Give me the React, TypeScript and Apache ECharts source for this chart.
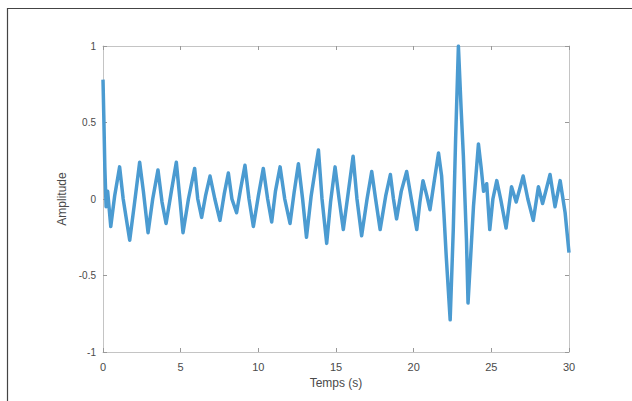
import React, { useEffect, useRef } from "react";
import * as echarts from "echarts";

const times = [
  0.0, 0.05, 0.12, 0.2, 0.3, 0.5, 0.75, 1.07, 1.3, 1.72, 2.0, 2.36, 2.6, 2.9, 3.2, 3.54, 3.8, 4.06, 4.4, 4.72,
  4.95, 5.15, 5.5, 5.9, 6.1, 6.35, 6.6, 6.89, 7.2, 7.53, 7.8, 8.07, 8.3, 8.6, 8.85, 9.14, 9.4, 9.68, 10.0, 10.32,
  10.6, 10.86, 11.1, 11.4, 11.7, 12.04, 12.3, 12.58, 12.85, 13.1, 13.4, 13.6, 13.87, 14.1, 14.4, 14.65, 14.94, 15.2, 15.47, 15.8,
  16.1, 16.35, 16.65, 17.0, 17.3, 17.55, 17.84, 18.2, 18.5, 18.7, 18.9, 19.2, 19.55, 19.85, 20.2, 20.4, 20.6, 20.85, 21.05, 21.3,
  21.6, 21.8, 21.95, 22.1, 22.35, 22.55, 22.7, 22.88, 23.05, 23.2, 23.4, 23.5, 23.6, 23.85, 24.17, 24.35, 24.5, 24.7, 24.9, 25.1,
  25.35, 25.6, 25.95, 26.3, 26.6, 27.05, 27.35, 27.7, 28.03, 28.3, 28.78, 29.1, 29.43, 29.75, 30.0,
];

const amplitudes = [
  0.78, 0.55, 0.2, -0.05, 0.05, -0.18, 0.02, 0.21, 0.0, -0.27, -0.05, 0.24, 0.05, -0.22, 0.0, 0.19, -0.02, -0.16, 0.05, 0.24,
  0.0, -0.22, 0.0, 0.2, 0.0, -0.12, 0.02, 0.15, 0.0, -0.14, 0.03, 0.17, 0.0, -0.09, 0.06, 0.22, 0.0, -0.18, 0.02, 0.2,
  0.0, -0.15, 0.05, 0.21, 0.0, -0.16, 0.04, 0.23, 0.0, -0.25, 0.02, 0.15, 0.32, 0.0, -0.29, -0.02, 0.21, 0.0, -0.2, 0.05,
  0.28, 0.0, -0.24, 0.0, 0.18, 0.0, -0.2, 0.02, 0.16, 0.0, -0.13, 0.05, 0.18, 0.0, -0.2, -0.02, 0.12, 0.02, -0.07, 0.1,
  0.3, 0.15, -0.1, -0.38, -0.79, -0.2, 0.39, 1.0, 0.6, 0.28, -0.27, -0.68, -0.5, -0.05, 0.36, 0.2, 0.05, 0.1, -0.2, 0.0,
  0.12, 0.0, -0.19, 0.08, -0.02, 0.15, 0.0, -0.14, 0.08, -0.03, 0.16, -0.05, 0.12, -0.09, -0.35,
];

const xTicks = [0, 5, 10, 15, 20, 25, 30];
const yTicks = [-1, -0.5, 0, 0.5, 1];

export default function App() {
  const ref = useRef<HTMLDivElement>(null);
  useEffect(() => {
    if (!ref.current) return;
    const chart = echarts.init(ref.current, null, { renderer: "svg" });
    const data = times.map((t, i) => [t, amplitudes[i]]);
    const font = "Liberation Sans, Arial, sans-serif";
    const boxColor = "#c4c4c4";
    const labelColor = "#4a4a4a";
    const baseX = {
      type: "value",
      min: xTicks[0],
      max: xTicks[xTicks.length - 1],
      interval: 5,
      splitLine: { show: false },
      axisLine: { show: true, onZero: false, lineStyle: { color: boxColor, width: 1 } },
      axisTick: { show: true, inside: true, length: 4, lineStyle: { color: "#999" } },
    };
    const baseY = {
      type: "value",
      min: yTicks[0],
      max: yTicks[yTicks.length - 1],
      interval: 0.5,
      splitLine: { show: false },
      axisLine: { show: true, onZero: false, lineStyle: { color: boxColor, width: 1 } },
      axisTick: { show: true, inside: true, length: 4, lineStyle: { color: "#999" } },
    };
    chart.setOption({
      animation: false,
      backgroundColor: "#ffffff",
      grid: { left: 103, right: 63, top: 46, bottom: 49, containLabel: false },
      xAxis: [
        {
          ...baseX,
          position: "bottom",
          name: "Temps (s)",
          nameLocation: "middle",
          nameGap: 24,
          nameTextStyle: { color: labelColor, fontFamily: font, fontSize: 12 },
          axisLabel: { color: labelColor, fontFamily: font, fontSize: 11, margin: 9 },
        },
        { ...baseX, position: "top", axisLabel: { show: false } },
      ],
      yAxis: [
        {
          ...baseY,
          position: "left",
          name: "Amplitude",
          nameLocation: "middle",
          nameGap: 35,
          nameRotate: 90,
          nameTextStyle: { color: labelColor, fontFamily: font, fontSize: 12 },
          axisLabel: { color: labelColor, fontFamily: font, fontSize: 10, margin: 7 },
        },
        { ...baseY, position: "right", axisLabel: { show: false } },
      ],
      graphic: [
        { type: "line", shape: { x1: 7, y1: 8.5, x2: 632, y2: 8.5 }, style: { stroke: "#444", lineWidth: 1.2 } },
        { type: "line", shape: { x1: 7.5, y1: 8, x2: 7.5, y2: 401 }, style: { stroke: "#444", lineWidth: 1.2 } },
      ],
      series: [
        {
          type: "line",
          data,
          xAxisIndex: 0,
          yAxisIndex: 0,
          showSymbol: false,
          symbol: "none",
          smooth: false,
          lineStyle: { color: "#4b9bd1", width: 3.5, join: "round" },
        },
      ],
    });
    return () => chart.dispose();
  }, []);
  return (
    <div
      ref={ref}
      style={{ position: "fixed", left: 0, top: 0, width: 632, height: 401, background: "#fff" }}
    />
  );
}
